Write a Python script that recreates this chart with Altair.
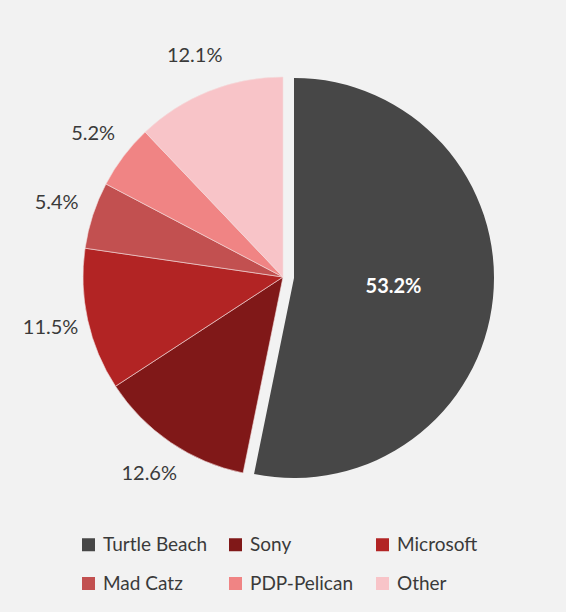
import math
import altair as alt
import pandas as pd

companies = ["Turtle Beach", "Sony", "Microsoft", "Mad Catz", "PDP-Pelican", "Other"]
shares = [53.2, 12.6, 11.5, 5.4, 5.2, 12.1]
colors = ["#474747", "#801818", "#b22424", "#c25050", "#f08484", "#f8c4c8"]

df = pd.DataFrame({
    "company": companies,
    "share": shares,
    "order": list(range(len(companies))),
    "label": [f"{v:.1f}%" for v in shares],
})

FONT = "Lato"
R = 200
CX, CY = 283, 277

theta_scale = alt.Scale(domain=[0, 100], range=[0, 2 * math.pi])
color_enc = alt.Color(
    "company:N",
    scale=alt.Scale(domain=companies, range=colors),
    sort=companies,
    legend=alt.Legend(
        title=None,
        orient="none",
        legendX=79,
        legendY=535,
        columns=3,
        direction="horizontal",
        gridAlign="all",
        columnPadding=18,
        rowPadding=19,
        symbolType="square",
        symbolSize=169,
        symbolStrokeWidth=0,
        labelFont=FONT,
        labelFontSize=19,
        labelColor="#3a3a3a",
        labelOffset=5,
    ),
)

base = alt.Chart(df).transform_stack(
    stack="share", groupby=[], as_=["start", "end"], sort=[alt.SortField("order")]
).transform_calculate(mid="(datum.start + datum.end) / 2")

pos = dict(x=alt.value(CX), y=alt.value(CY))

others = base.transform_filter("datum.company != 'Turtle Beach'").mark_arc(
    radius=R, stroke="#f4dede", strokeWidth=0.6
).encode(
    theta=alt.Theta("start:Q", scale=theta_scale),
    theta2="end:Q",
    color=color_enc,
    **pos,
)

turtle = base.transform_filter("datum.company == 'Turtle Beach'").mark_arc(
    radius=R, xOffset=11, yOffset=1
).encode(
    theta=alt.Theta("start:Q", scale=theta_scale),
    theta2="end:Q",
    color=color_enc,
    **pos,
)

out_labels = base.transform_filter("datum.company != 'Turtle Beach'").mark_text(
    radius=238, font=FONT, fontSize=20, color="#3a3a3a"
).encode(
    theta=alt.Theta("mid:Q", scale=theta_scale),
    text="label:N",
    **pos,
)

in_label = base.transform_filter("datum.company == 'Turtle Beach'").mark_text(
    radius=100, xOffset=11, font=FONT, fontSize=20, fontWeight="bold", color="white"
).encode(
    theta=alt.Theta("mid:Q", scale=theta_scale),
    text="label:N",
    **pos,
)

chart = alt.layer(others, turtle, out_labels, in_label).properties(
    width=566,
    height=612,
    autosize=alt.AutoSizeParams(type="none"),
    padding=0,
    background="#f2f2f2",
).configure_view(stroke=None)

chart.save("out.html", embed_options={"renderer": "svg", "actions": False})
